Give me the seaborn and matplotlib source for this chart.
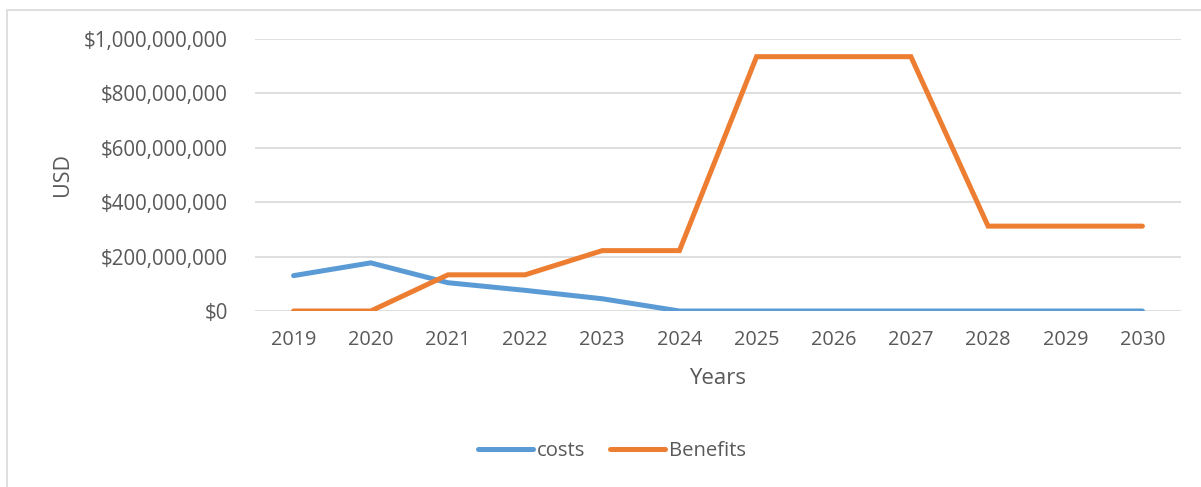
import matplotlib
matplotlib.use("Agg")
import matplotlib.pyplot as plt
from matplotlib.patches import Rectangle
from matplotlib.ticker import FuncFormatter
import seaborn as sns
import pandas as pd

years = ["2019", "2020", "2021", "2022", "2023", "2024",
         "2025", "2026", "2027", "2028", "2029", "2030"]
costs = [130e6, 177e6, 104e6, 76e6, 45e6, 0, 0, 0, 0, 0, 0, 0]
benefits = [0, 0, 133e6, 133e6, 222e6, 222e6,
            935e6, 935e6, 935e6, 312e6, 312e6, 312e6]
series_names = ["costs", "Benefits"]
palette = {"costs": "#5B9BD5", "Benefits": "#ED7D31"}

df = pd.DataFrame({
    "Years": years * 2,
    "USD": costs + benefits,
    "series": [series_names[0]] * len(years) + [series_names[1]] * len(years),
})

sns.set_theme(style="white")
plt.rcParams["font.family"] = ["Open Sans", "DejaVu Sans"]
plt.rcParams["ytick.major.pad"] = 19.5
plt.rcParams["xtick.major.pad"] = 14
text_color = "#595959"

fig = plt.figure(figsize=(12.01, 4.87), dpi=100)
ax = fig.add_axes([255 / 1201, 1 - 311 / 487, (1181 - 255) / 1201, (311 - 39) / 487])

sns.lineplot(data=df, x="Years", y="USD", hue="series", palette=palette,
             linewidth=3.6, ax=ax, legend=False, sort=False,
             solid_capstyle="round", solid_joinstyle="miter")

ax.set_xlim(-0.5, len(years) - 0.5)
ax.set_ylim(0, 1e9)
ax.set_yticks([0, 2e8, 4e8, 6e8, 8e8, 1e9])
ax.yaxis.set_major_formatter(FuncFormatter(lambda v, p: f"${v:,.0f}"))
ax.grid(axis="y", color="#d9d9d9", linewidth=1.2)
ax.grid(axis="x", visible=False)
ax.set_axisbelow(True)
for s in ax.spines.values():
    s.set_visible(False)
ax.tick_params(axis="both", length=0, labelcolor=text_color)
ax.tick_params(axis="y", labelsize=14.8)
ax.tick_params(axis="x", labelsize=14.3)
ax.set_xlabel("Years", fontsize=16, color=text_color, labelpad=12.5)
ax.set_ylabel("USD", fontsize=15.5, color=text_color, labelpad=8)

handles = [plt.Line2D([], [], color=palette[n], linewidth=3.6, solid_capstyle="round")
           for n in series_names]
fig.legend(handles, series_names, loc="center", bbox_to_anchor=(612 / 1201, 1 - 451 / 487),
           ncol=2, frameon=False, fontsize=14.6, labelcolor=text_color,
           handlelength=2.7, handletextpad=0.2, columnspacing=1.2)

fig.patches.append(Rectangle((7 / 1201, -0.1), 1.2, 1 - 9.5 / 487 + 0.1,
                             transform=fig.transFigure, fill=False,
                             edgecolor="#d9d9d9", linewidth=1.2))

fig.savefig("out.png", dpi=100)
